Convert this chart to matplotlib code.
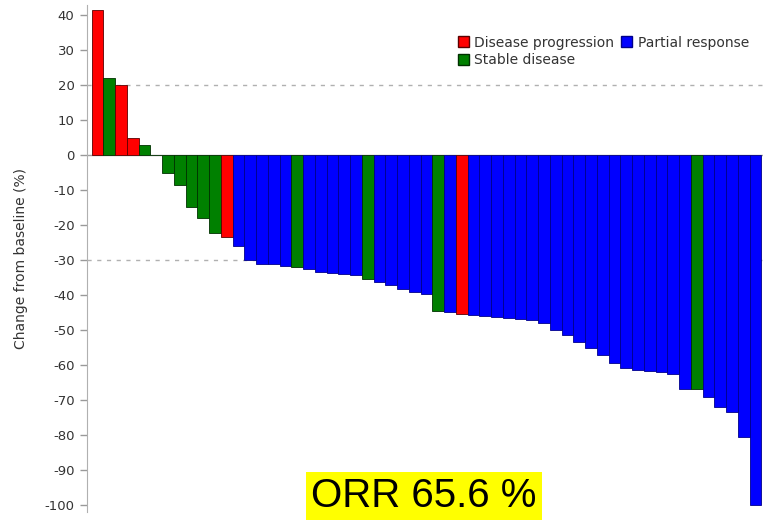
import matplotlib
matplotlib.use("Agg")
import matplotlib.pyplot as plt
from matplotlib.patches import Patch

# best % change from baseline, sorted
change = [41.5, 22, 20, 5, 3, 0, -5, -8.6, -14.8, -17.8, -22.2, -23.4,
          -26, -29.8, -31, -31.2, -31.6, -31.8, -32.4, -33.3, -33.6, -33.8,
          -34.3, -35.5, -36.2, -37.1, -38.1, -39, -39.7, -44.5, -44.8, -45.4,
          -45.7, -45.9, -46.2, -46.5, -46.8, -47.1, -48, -50, -51.5, -53.3,
          -55.2, -57, -59.3, -60.8, -61.4, -61.8, -62.1, -62.4, -66.7, -66.9,
          -69, -71.9, -73.3, -80.5, -100]
# PD = disease progression, SD = stable disease, PR = partial response
response = ["PD", "SD", "PD", "PD", "SD", "SD", "SD", "SD", "SD", "SD", "SD", "PD",
            "PR", "PR", "PR", "PR", "PR", "SD", "PR", "PR", "PR", "PR",
            "PR", "SD", "PR", "PR", "PR", "PR", "PR", "SD", "PR", "PD",
            "PR", "PR", "PR", "PR", "PR", "PR", "PR", "PR", "PR", "PR",
            "PR", "PR", "PR", "PR", "PR", "PR", "PR", "PR", "PR", "SD",
            "PR", "PR", "PR", "PR", "PR"]
yticks = list(range(40, -101, -10))

colors = {"PD": "#ff0000", "SD": "#008000", "PR": "#0000ff"}
edges = {"PD": "#5a0000", "SD": "#003000", "PR": "#00008a"}

fig = plt.figure(figsize=(7.63, 5.21), dpi=100)
ax = fig.add_axes([87 / 763, 1 - 512 / 521, 1 - 87 / 763, 507 / 521])

ax.axhline(20, color="#b0b0b0", lw=1, ls=(0, (3, 4)), zorder=0)
ax.axhline(-30, color="#b0b0b0", lw=1, ls=(0, (3, 4)), zorder=0)
ax.axhline(0, color="#a0a0a0", lw=1, zorder=1)

x = list(range(len(change)))
ax.bar(x, change, width=1.0,
       color=[colors[r] for r in response],
       edgecolor=[edges[r] for r in response], linewidth=0.6, zorder=2)

ax.set_xlim(-0.9, 56.63)
ax.set_ylim(-102, 43)
ax.set_yticks(yticks)
ax.set_yticklabels([str(t) for t in yticks])
ax.set_xticks([])
ax.tick_params(axis="y", labelsize=9.5, colors="#999999", labelcolor="#333333",
               length=5, width=1, pad=4)
for s in ["top", "right", "bottom"]:
    ax.spines[s].set_visible(False)
ax.spines["left"].set_color("#b0b0b0")
ax.set_ylabel("Change from baseline (%)", fontsize=10, color="#333333", labelpad=12)

handles = [Patch(facecolor=colors["PD"], edgecolor=edges["PD"], label="Disease progression"),
           Patch(facecolor=colors["SD"], edgecolor=edges["SD"], label="Stable disease"),
           Patch(facecolor=colors["PR"], edgecolor=edges["PR"], label="Partial response")]
fig.legend(handles=handles, ncol=2, frameon=False, fontsize=10,
           loc="upper left", bbox_to_anchor=(452 / 763, 1 - 30 / 521),
           handlelength=0.8, handleheight=0.8, handletextpad=0.4,
           columnspacing=0.5, labelspacing=0.25, borderaxespad=0.0,
           labelcolor="#333333")

fig.text(424 / 763, 1 - 496 / 521, "ORR 65.6 %", fontsize=29,
         family=["Liberation Sans", "DejaVu Sans"], ha="center", va="center",
         bbox=dict(boxstyle="square,pad=0.12", facecolor="#ffff00", edgecolor="none"))

fig.savefig("out.png", dpi=100)
